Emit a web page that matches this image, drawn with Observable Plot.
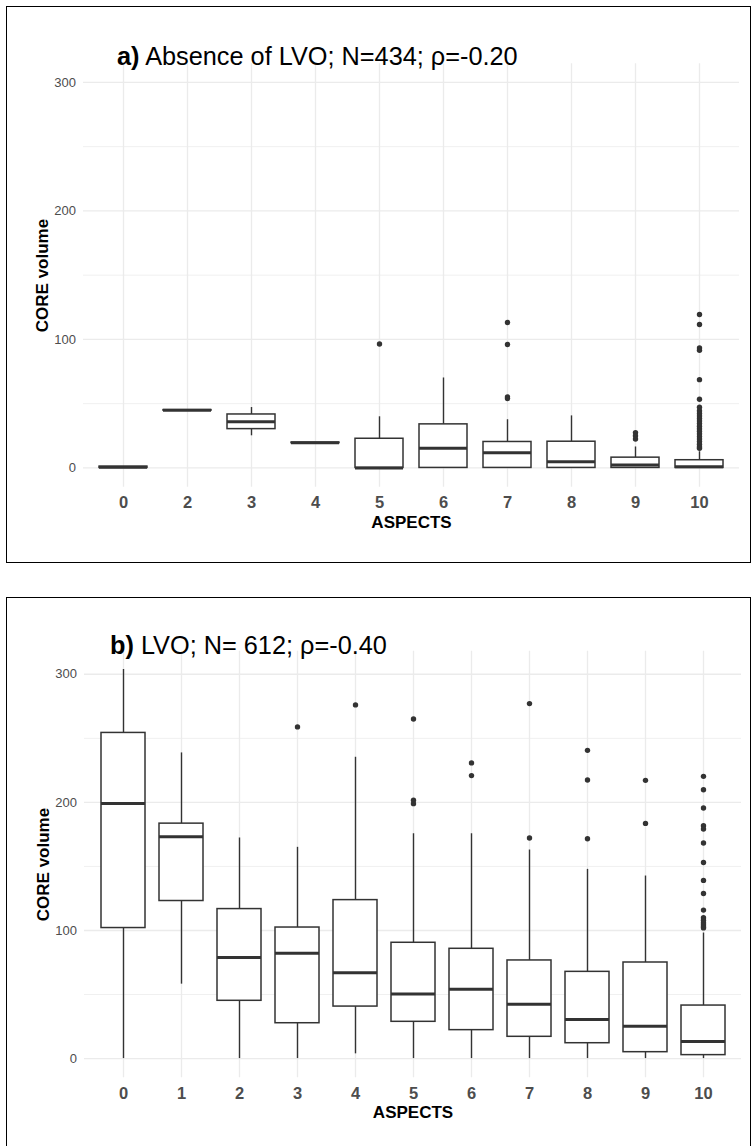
<!DOCTYPE html>
<html><head><meta charset="utf-8">
<script src="https://cdn.jsdelivr.net/npm/d3@7"></script>
<script src="https://cdn.jsdelivr.net/npm/@observablehq/plot@0.6"></script>
<style>
body{margin:0;background:#fff;}
#wrap{position:relative;width:752px;height:1146px;overflow:hidden;font-family:"Liberation Sans",Arial,sans-serif;}
.frame{position:absolute;border:1.5px solid #000;box-sizing:border-box;}
.title{position:absolute;font-size:25.3px;line-height:25px;white-space:nowrap;color:#000;}
.chart{position:absolute;left:0;}
</style></head>
<body><div id="wrap">
<div class="frame" style="left:6px;top:6px;width:745px;height:557px"></div>
<div class="frame" style="left:6px;top:597px;width:745px;height:570px"></div>
<div id="chartA" class="chart" style="top:0"></div>
<div id="chartB" class="chart" style="top:591px"></div>
<div class="title" style="left:117px;top:43.8px"><b>a)</b> Absence of LVO; N=434; ρ=-0.20</div>
<div class="title" style="left:110px;top:632.6px"><b>b)</b> LVO; N= 612; ρ=-0.40</div>
</div>
<script>
// ---------- Panel a: Absence of LVO ----------
const aCats = ["0","2","3","4","5","6","7","8","9","10"];
const aLow  = [0, 44.6, 25, 19.3, 0, 0, 0, 0, 0, 0];
const aQ1   = [0, 44.6, 30.2, 19.3, 0, 0, 0, 0, 0, 0];
const aMed  = [0.5, 44.8, 35.9, 19.5, 0, 15.3, 11.9, 4.9, 2.3, 1];
const aQ3   = [1, 45, 41.6, 19.7, 22.7, 33.9, 20.2, 20.4, 8, 6];
const aHigh = [1, 45, 47, 19.7, 39.8, 70, 37.5, 40.5, 16.3, 12.6];
const aOut = {
  "5": [96.4],
  "7": [113.2, 96.1, 55.3, 54],
  "9": [27.5, 25, 22.5],
  "10": [119.4, 111.6, 93.3, 91.5, 68.7, 53.5, 47.3, 44.5, 42.4, 40.5, 38.5, 36.5, 34.5, 32.5, 30.5, 28.5, 26.5, 24.5, 22.5, 20.5, 18.5, 16.5, 15.3]
};
// ---------- Panel b: LVO ----------
const bCats = ["0","1","2","3","4","5","6","7","8","9","10"];
const bLow  = [0, 58.1, 0, 0, 3.7, 0, 0, 0, 0, 0, 0];
const bQ1   = [101.9, 123, 45.1, 27.6, 40.6, 28.7, 22.2, 17, 12, 5, 2.7];
const bMed  = [199.2, 173.2, 78.9, 82.3, 67, 50.5, 54.2, 42.5, 30.5, 25.3, 13.3];
const bQ3   = [254.2, 183.4, 116.7, 102.3, 123.7, 90.4, 85.7, 76.6, 67.7, 75, 41.4];
const bHigh = [303.7, 238.6, 172.2, 164.9, 235.2, 175.5, 175.5, 162.8, 147.7, 142.5, 98];
const bOut = {
  "3": [258.9],
  "4": [276.1],
  "5": [265.1, 201.6, 199],
  "6": [230.8, 220.9],
  "7": [277.1, 172.2],
  "8": [240.6, 217.5, 171.6],
  "9": [217.2, 183.6],
  "10": [220.3, 209.9, 195.6, 181.8, 179.2, 168.3, 153.1, 139.1, 128.9, 115.9, 110, 108, 106, 104.5, 103, 102]
};
const majorTicks = [0, 100, 200, 300];
const minorTicks = [50, 150, 250];

function panel(cats, lo, q1, med, q3, hi, out, opt) {
  const rows = cats.map((c, i) => ({c, lo: lo[i], q1: q1[i], med: med[i], q3: q3[i], hi: hi[i]}));
  const outliers = [];
  for (const c of cats) for (const v of (out[c] || [])) outliers.push({c, v});
  const ink = "#333333";
  return Plot.plot({
    width: 752,
    height: opt.height,
    marginTop: opt.mt, marginBottom: opt.mb, marginLeft: opt.ml, marginRight: opt.mr,
    style: {fontFamily: "'Liberation Sans', Arial, sans-serif", background: "transparent", overflow: "visible"},
    x: {type: "band", domain: cats, paddingInner: 0.25, paddingOuter: 0.225, align: 0.5, label: null},
    y: {domain: opt.ydom, label: null},
    marks: [
      Plot.ruleY(minorTicks, {stroke: "#f0f0f0", strokeWidth: 1}),
      Plot.ruleY(majorTicks, {stroke: "#ebebeb", strokeWidth: 1.3}),
      Plot.ruleX(cats, {x: d => d, stroke: "#ebebeb", strokeWidth: 1.3}),
      Plot.ruleX(rows, {x: "c", y1: "lo", y2: "q1", stroke: ink, strokeWidth: 1.4}),
      Plot.ruleX(rows, {x: "c", y1: "q3", y2: "hi", stroke: ink, strokeWidth: 1.4}),
      Plot.barY(rows, {x: "c", y1: "q1", y2: "q3", fill: "white", stroke: ink, strokeWidth: 1.5}),
      Plot.tickY(rows, {x: "c", y: "med", stroke: ink, strokeWidth: 3}),
      Plot.dot(outliers, {x: "c", y: "v", r: 2.7, fill: ink, stroke: null}),
      Plot.axisY({ticks: majorTicks, tickSize: 0, tickPadding: 7.5, fontSize: 13, color: "#4d4d4d", label: null}),
      Plot.axisX({tickSize: 0, tickPadding: 9.5, fontSize: 16.5, fontWeight: "bold", color: "#4d4d4d", label: null}),
      Plot.text(["CORE volume"], {text: d => d, frameAnchor: "left", dx: -41.3, rotate: -90, textAnchor: "middle", lineAnchor: "middle", fontWeight: "bold", fontSize: 17, fill: "black"}),
      Plot.text(["ASPECTS"], {text: d => d, frameAnchor: "bottom", dy: opt.xlabDy, textAnchor: "middle", lineAnchor: "middle", fontWeight: "bold", fontSize: 17, fill: "black"})
    ]
  });
}

document.getElementById("chartA").append(panel(aCats, aLow, aQ1, aMed, aQ3, aHigh, aOut,
  {height: 560, mt: 63.3, mb: 73.3, ml: 83, mr: 13, ydom: [-15, 314.5], xlabDy: 35}));
document.getElementById("chartB").append(panel(bCats, bLow, bQ1, bMed, bQ3, bHigh, bOut,
  {height: 555, mt: 59.7, mb: 68.7, ml: 84, mr: 11, ydom: [-15, 318], xlabDy: 34.7}));
</script>
</body></html>
